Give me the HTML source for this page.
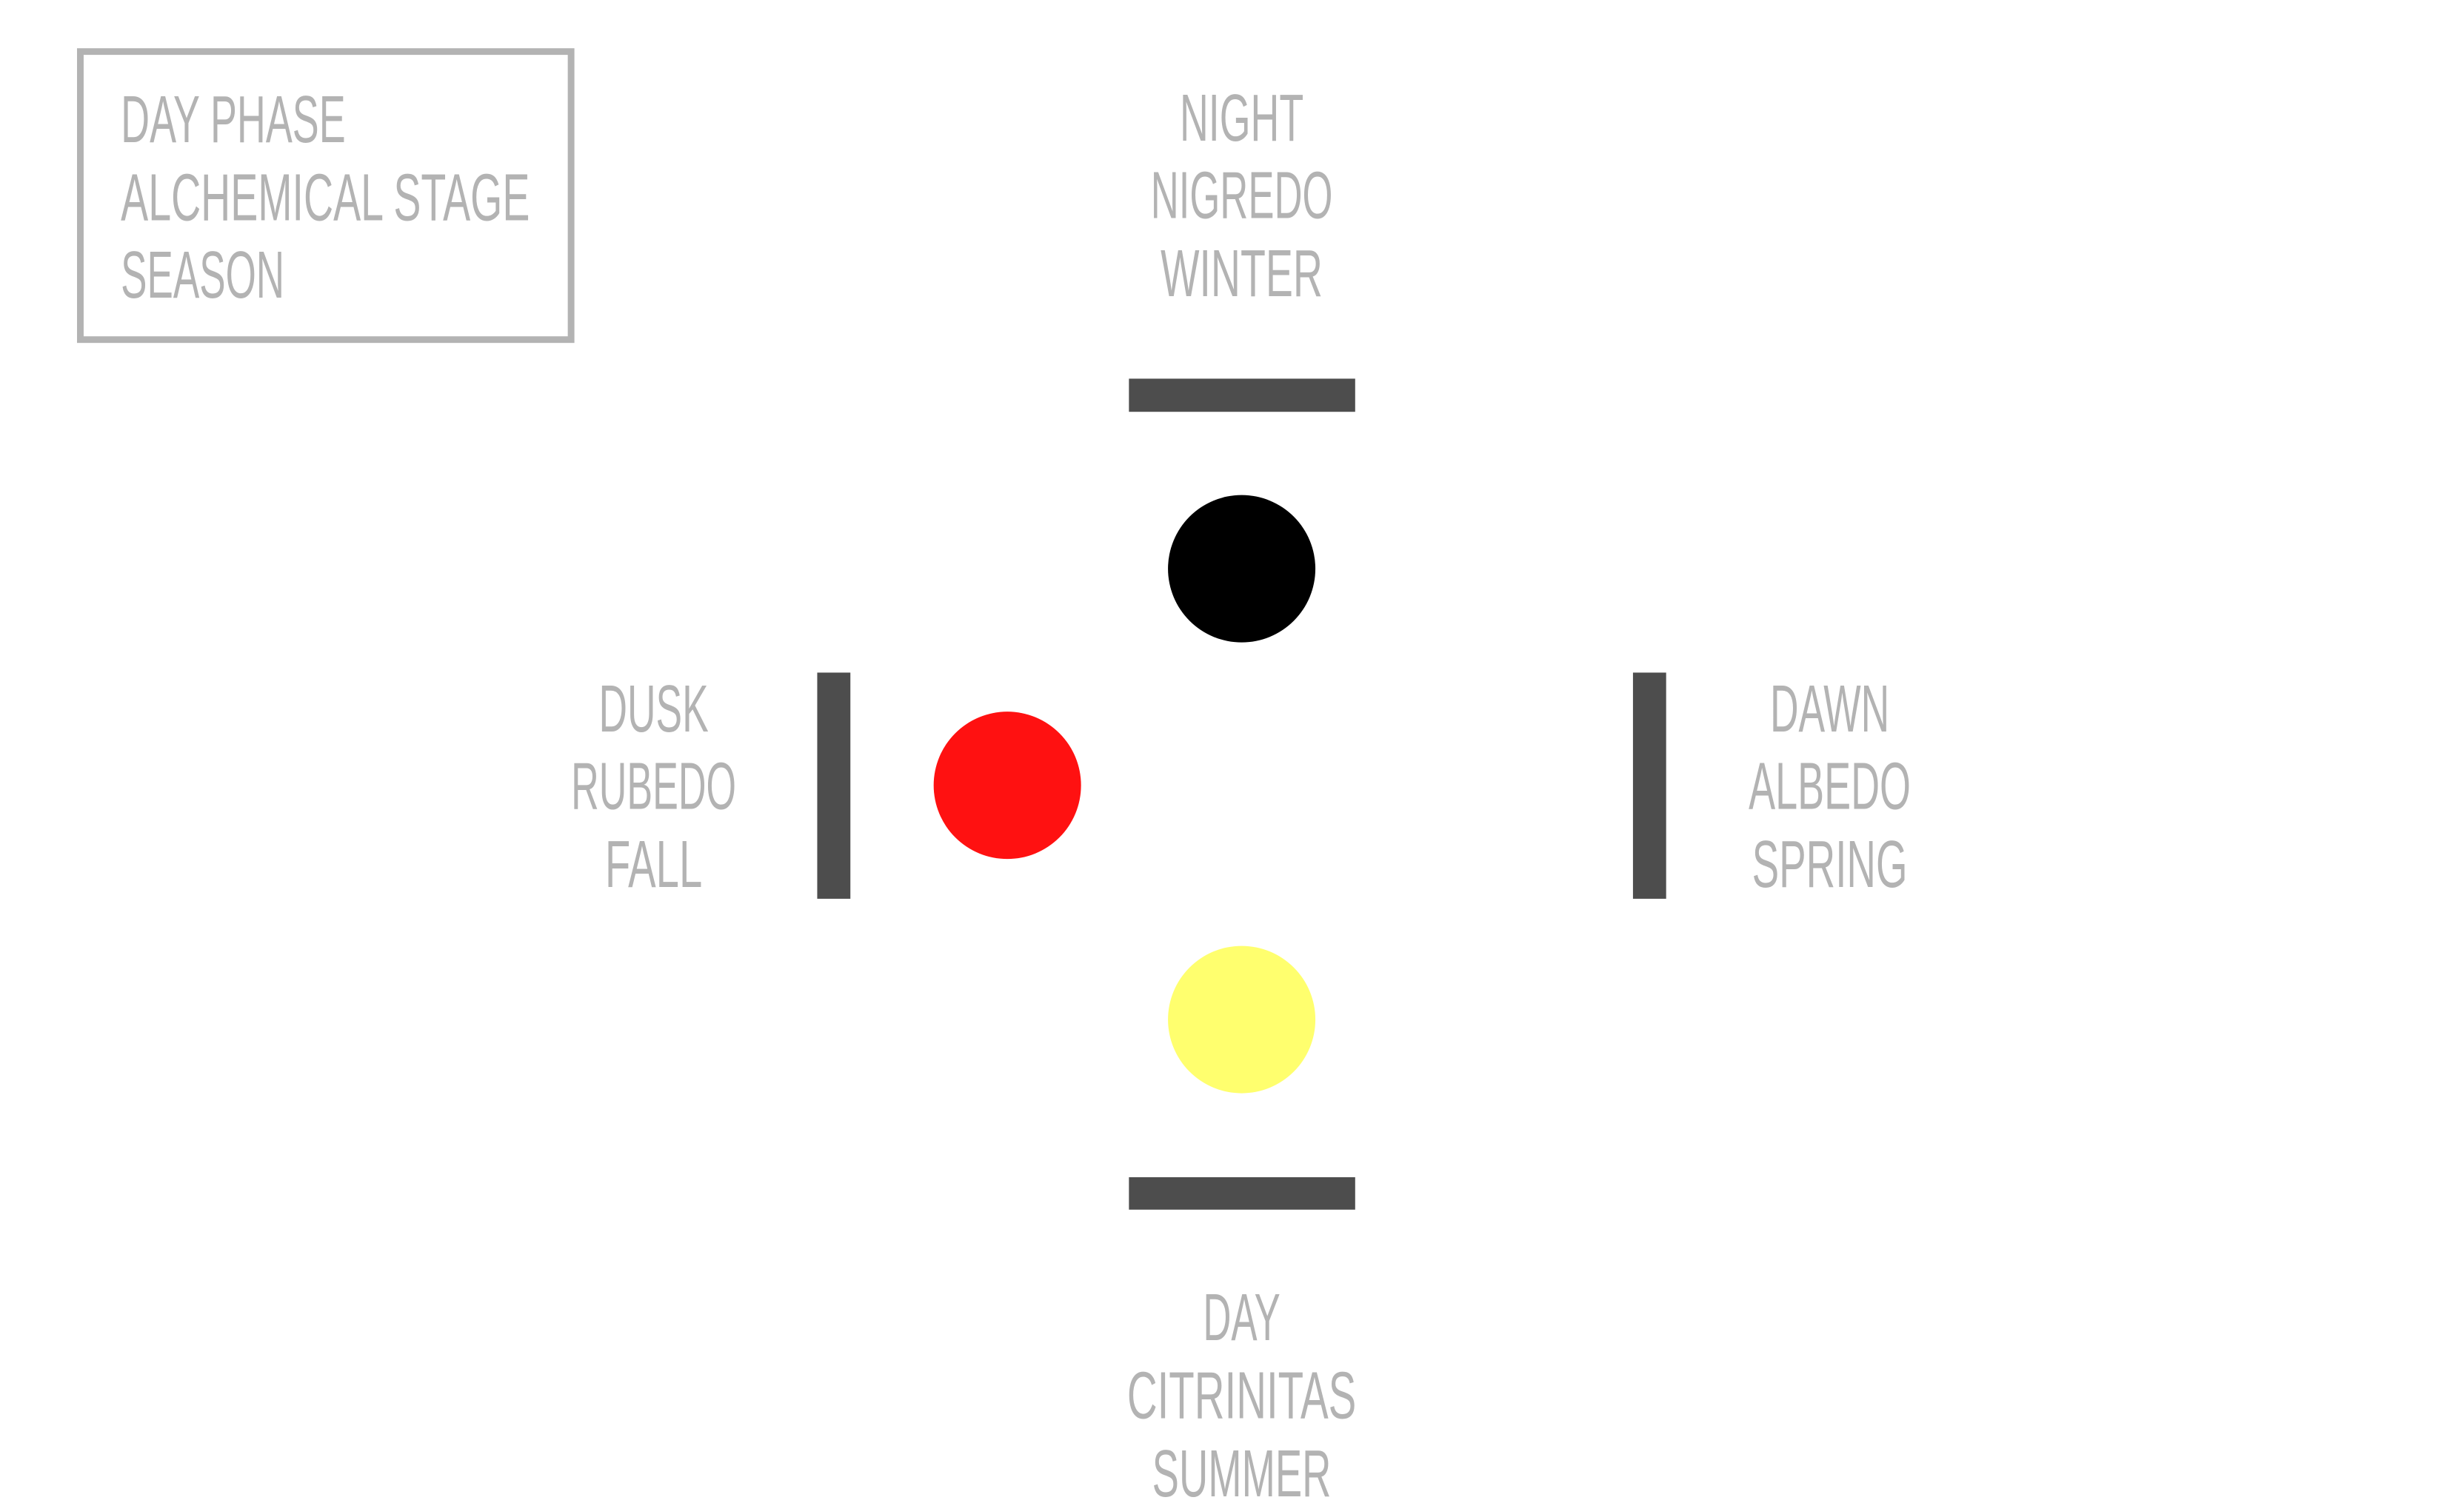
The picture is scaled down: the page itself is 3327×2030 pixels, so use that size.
<!DOCTYPE html>
<html><head><meta charset="utf-8"><style>html,body{margin:0;padding:0;background:#fff}svg{display:block}text{font-family:"Liberation Sans",sans-serif;font-size:90px;fill:#b3b3b3}</style></head>
<body>
<svg width="3327" height="2030" viewBox="0 0 3327 2030" xmlns="http://www.w3.org/2000/svg">
<g transform="scale(0.995)">
<rect x="109" y="70" width="666" height="391" fill="none" stroke="#b3b3b3" stroke-width="9"/>
<g>
<text x="164" y="162" dominant-baseline="central" textLength="305" lengthAdjust="spacingAndGlyphs">DAY PHASE</text>
<text x="164" y="268" dominant-baseline="central" textLength="555" lengthAdjust="spacingAndGlyphs">ALCHEMICAL STAGE</text>
<text x="164" y="373" dominant-baseline="central" textLength="222" lengthAdjust="spacingAndGlyphs">SEASON</text>
</g>
<g fill="#4d4d4d">
<rect x="1532" y="514" width="307" height="45"/>
<rect x="1532" y="1598" width="307" height="44"/>
<rect x="1109" y="913" width="45" height="307"/>
<rect x="2216" y="913" width="45" height="307"/>
</g>
<circle cx="1685" cy="772" r="100" fill="#000"/>
<circle cx="1367" cy="1066" r="100" fill="#ff1111"/>
<circle cx="1685" cy="1384" r="100" fill="#ffff6e"/>
<g text-anchor="middle">
<text x="1685" y="160" dominant-baseline="central" textLength="168" lengthAdjust="spacingAndGlyphs">NIGHT</text>
<text x="1685" y="265" dominant-baseline="central" textLength="247" lengthAdjust="spacingAndGlyphs">NIGREDO</text>
<text x="1685" y="371" dominant-baseline="central" textLength="220" lengthAdjust="spacingAndGlyphs">WINTER</text>
</g>
<g text-anchor="middle">
<text x="887" y="962" dominant-baseline="central" textLength="149" lengthAdjust="spacingAndGlyphs">DUSK</text>
<text x="887" y="1067" dominant-baseline="central" textLength="224" lengthAdjust="spacingAndGlyphs">RUBEDO</text>
<text x="887" y="1173" dominant-baseline="central" textLength="132" lengthAdjust="spacingAndGlyphs">FALL</text>
</g>
<g text-anchor="middle">
<text x="2483" y="962" dominant-baseline="central" textLength="162" lengthAdjust="spacingAndGlyphs">DAWN</text>
<text x="2483" y="1067" dominant-baseline="central" textLength="220" lengthAdjust="spacingAndGlyphs">ALBEDO</text>
<text x="2483" y="1173" dominant-baseline="central" textLength="211" lengthAdjust="spacingAndGlyphs">SPRING</text>
</g>
<g text-anchor="middle">
<text x="1685" y="1788" dominant-baseline="central" textLength="105" lengthAdjust="spacingAndGlyphs">DAY</text>
<text x="1685" y="1894" dominant-baseline="central" textLength="311" lengthAdjust="spacingAndGlyphs">CITRINITAS</text>
<text x="1685" y="2000" dominant-baseline="central" textLength="243" lengthAdjust="spacingAndGlyphs">SUMMER</text>
</g>
</g>
</svg>
</body></html>
